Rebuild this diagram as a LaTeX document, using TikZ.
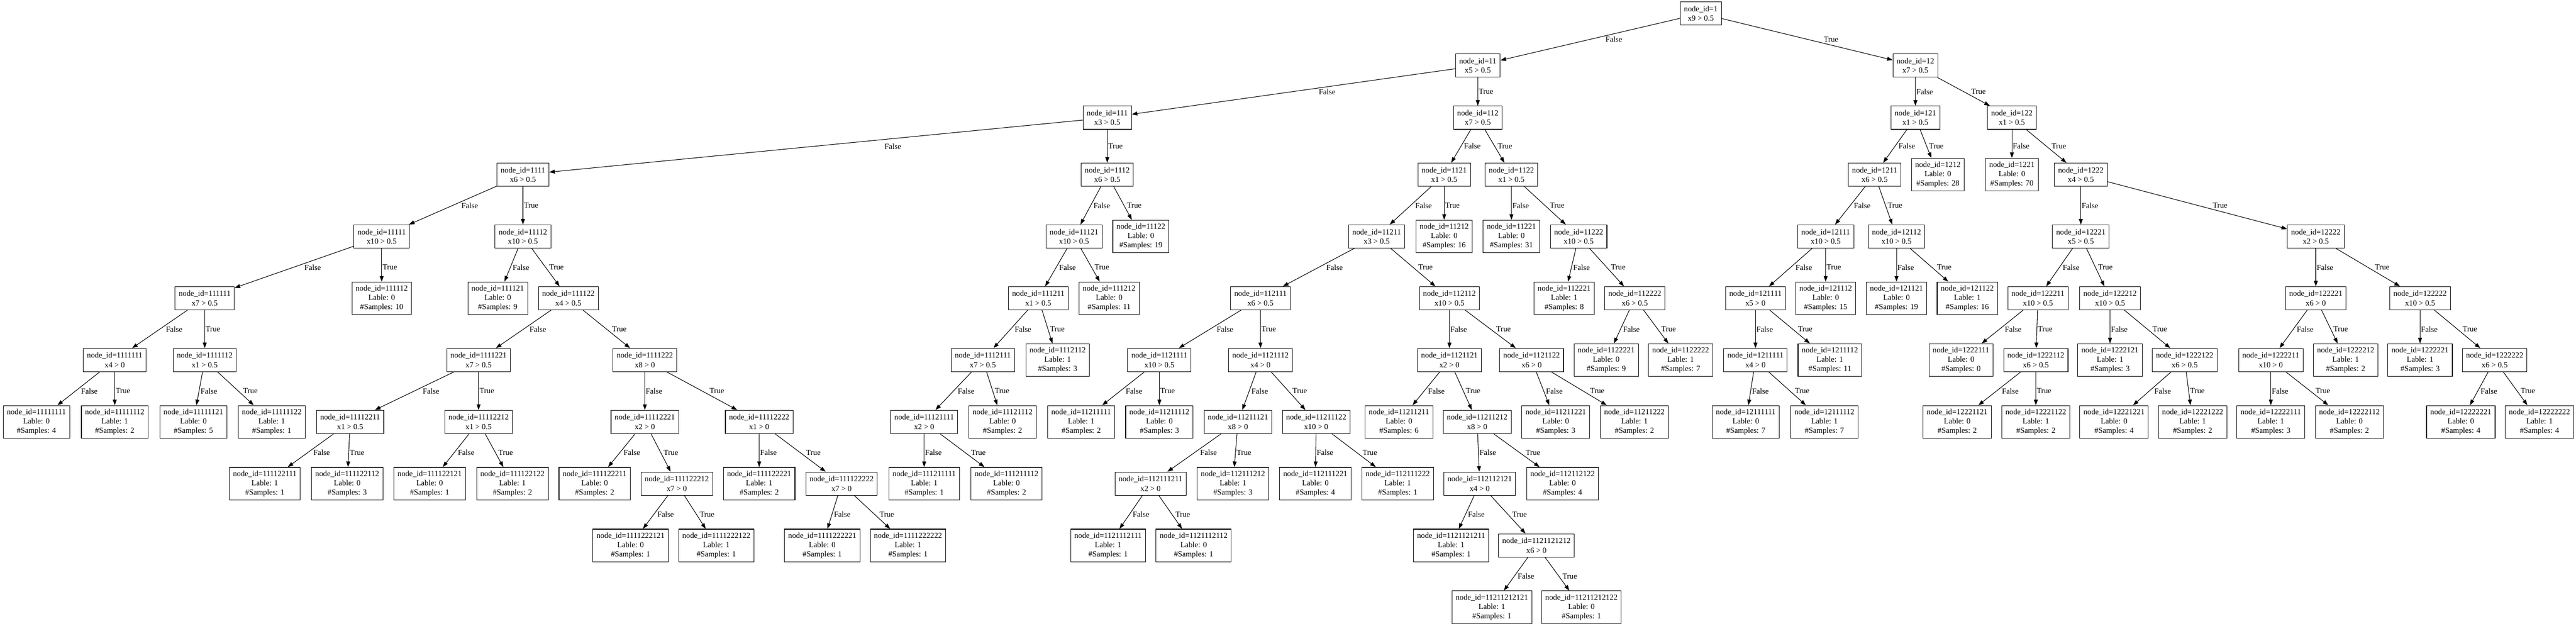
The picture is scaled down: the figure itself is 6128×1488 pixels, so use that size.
\documentclass[tikz,border=0pt]{standalone}
\usepackage{fontspec}
\setmainfont{Liberation Serif}
\usetikzlibrary{arrows.meta,calc}
\tikzset{
  box/.style={draw, line width=1pt, rectangle, inner xsep=6.6pt, inner ysep=0pt, align=center, font=\fontsize{14}{16.8}\selectfont},
  dec/.style={box, minimum height=41.5pt},
  leaf/.style={box, minimum height=58.3pt},
  lbl/.style={font=\fontsize{14}{16.8}\selectfont, inner sep=0pt, anchor=west},
  edge/.style={line width=1pt, -{Triangle[length=10pt,width=7pt]}},
}
\newcommand\dn[4]{\node[dec] (n#1) at (#2,#3) {node\_id=#1\\#4};}
\newcommand\lf[5]{\node[leaf] (n#1) at (#2,#3) {node\_id=#1\\Lable: #4\\\#Samples: #5};}
\newcommand\tedge[3]{%
  \draw[edge] (n#1) -- (n#2);
  \path let \p1=(n#1.center), \p2=(n#2.center),
    \n1={abs((\x2-\x1)/(\y2-\y1))},
    \n2={(\x1+\x2)/2+1.5pt+6.375pt*\n1},
    \n3={(\y1+\y2)/2} in
    node[lbl] at (\n2,\n3) {#3};}
\newcommand\kids[1]{\tedge{#1}{#11}{False}\tedge{#1}{#12}{True}}
\begin{document}
\begin{tikzpicture}[x=0.75pt,y=-0.75pt]
\fill[white] (0,0) rectangle (6128,1488);
\useasboundingbox (0,0) rectangle (6128,1488);
% rank 0
\dn{1}{4046}{32}{x9 > 0.5}
% rank 1
\dn{11}{3515.5}{156}{x5 > 0.5}
\dn{12}{4556.5}{156}{x7 > 0.5}
% rank 2
\dn{111}{2634}{280}{x3 > 0.5}
\dn{112}{3515.5}{280}{x7 > 0.5}
\dn{121}{4556.5}{280}{x1 > 0.5}
\dn{122}{4786}{280}{x1 > 0.5}
% rank 3
\dn{1111}{1244}{415.5}{x6 > 0.5}
\dn{1112}{2634}{415.5}{x6 > 0.5}
\dn{1121}{3435.5}{415.5}{x1 > 0.5}
\dn{1122}{3595.5}{415.5}{x1 > 0.5}
\dn{1211}{4459.5}{415.5}{x6 > 0.5}
\lf{1212}{4610}{415.5}{0}{28}
\lf{1221}{4786}{415.5}{0}{70}
\dn{1222}{4950}{415.5}{x4 > 0.5}
% rank 4
\dn{11111}{908}{562.5}{x10 > 0.5}
\dn{11112}{1244}{562.5}{x10 > 0.5}
\dn{11121}{2555}{562.5}{x10 > 0.5}
\lf{11122}{2714}{562.5}{0}{19}
\dn{11211}{3275}{562.5}{x3 > 0.5}
\lf{11212}{3435.5}{562.5}{0}{16}
\lf{11221}{3595.5}{562.5}{0}{31}
\dn{11222}{3755.5}{562.5}{x10 > 0.5}
\dn{12111}{4343}{562.5}{x10 > 0.5}
\dn{12112}{4511.5}{562.5}{x10 > 0.5}
\dn{12221}{4950}{562.5}{x5 > 0.5}
\dn{12222}{5509}{562.5}{x2 > 0.5}
% rank 5
\dn{111111}{487}{709.5}{x7 > 0.5}
\lf{111112}{908}{709.5}{0}{10}
\lf{111121}{1184}{709.5}{0}{9}
\dn{111122}{1352}{709.5}{x4 > 0.5}
\dn{111211}{2470}{709.5}{x1 > 0.5}
\lf{111212}{2638.5}{709.5}{0}{11}
\dn{112111}{2998.5}{709.5}{x6 > 0.5}
\dn{112112}{3448}{709.5}{x10 > 0.5}
\lf{112221}{3721}{709.5}{1}{8}
\dn{112222}{3889}{709.5}{x6 > 0.5}
\dn{121111}{4176}{709.5}{x5 > 0}
\lf{121112}{4343}{709.5}{0}{15}
\lf{121121}{4511.5}{709.5}{0}{19}
\lf{121122}{4680}{709.5}{1}{16}
\dn{122211}{4848}{709.5}{x10 > 0.5}
\dn{122212}{5019.5}{709.5}{x10 > 0.5}
\dn{122221}{5509}{709.5}{x6 > 0}
\dn{122222}{5757}{709.5}{x10 > 0.5}
% rank 6
\dn{1111111}{273}{856.5}{x4 > 0}
\dn{1111112}{487}{856.5}{x1 > 0.5}
\dn{1111221}{1138.5}{856.5}{x7 > 0.5}
\dn{1111222}{1534}{856.5}{x8 > 0}
\dn{1112111}{2338}{856.5}{x7 > 0.5}
\lf{1112112}{2516}{856.5}{1}{3}
\dn{1121111}{2758}{856.5}{x10 > 0.5}
\dn{1121112}{2998.5}{856.5}{x4 > 0}
\dn{1121121}{3448}{856.5}{x2 > 0}
\dn{1121122}{3643.5}{856.5}{x6 > 0}
\lf{1122221}{3821}{856.5}{0}{9}
\lf{1122222}{3998}{856.5}{1}{7}
\dn{1211111}{4176}{856.5}{x4 > 0}
\lf{1211112}{4353}{856.5}{1}{11}
\lf{1222111}{4665}{856.5}{0}{0}
\dn{1222112}{4843}{856.5}{x6 > 0.5}
\lf{1222121}{5019.5}{856.5}{1}{3}
\dn{1222122}{5197}{856.5}{x6 > 0.5}
\dn{1222211}{5402}{856.5}{x10 > 0}
\lf{1222212}{5580}{856.5}{1}{2}
\lf{1222221}{5757}{856.5}{1}{3}
\dn{1222222}{5934.5}{856.5}{x6 > 0.5}
% rank 7
\lf{11111111}{86.5}{1003.5}{0}{4}
\lf{11111112}{273}{1003.5}{1}{2}
\lf{11111121}{460}{1003.5}{0}{5}
\lf{11111122}{646.5}{1003.5}{1}{1}
\dn{11112211}{833}{1003.5}{x1 > 0.5}
\dn{11112212}{1138.5}{1003.5}{x1 > 0.5}
\dn{11112221}{1534}{1003.5}{x2 > 0}
\dn{11112222}{1806}{1003.5}{x1 > 0}
\dn{11121111}{2198.5}{1003.5}{x2 > 0}
\lf{11121112}{2385}{1003.5}{0}{2}
\lf{11211111}{2572}{1003.5}{1}{2}
\lf{11211112}{2758}{1003.5}{0}{3}
\dn{11211121}{2945}{1003.5}{x8 > 0}
\dn{11211122}{3131}{1003.5}{x10 > 0}
\lf{11211211}{3328}{1003.5}{0}{6}
\dn{11211212}{3514}{1003.5}{x8 > 0}
\lf{11211221}{3701}{1003.5}{0}{3}
\lf{11211222}{3888}{1003.5}{1}{2}
\lf{12111111}{4153}{1003.5}{0}{7}
\lf{12111112}{4340}{1003.5}{1}{7}
\lf{12221121}{4656}{1003.5}{0}{2}
\lf{12221122}{4843}{1003.5}{1}{2}
\lf{12221221}{5029}{1003.5}{0}{4}
\lf{12221222}{5216}{1003.5}{1}{2}
\lf{12222111}{5402}{1003.5}{1}{3}
\lf{12222112}{5589}{1003.5}{0}{2}
\lf{12222221}{5854}{1003.5}{0}{4}
\lf{12222222}{6041}{1003.5}{1}{4}
% rank 8
\lf{111122111}{630}{1150.5}{1}{1}
\lf{111122112}{826}{1150.5}{0}{3}
\lf{111122121}{1022}{1150.5}{0}{1}
\lf{111122122}{1219}{1150.5}{1}{2}
\lf{111122211}{1414.5}{1150.5}{0}{2}
\dn{111122212}{1610}{1150.5}{x7 > 0}
\lf{111122221}{1806}{1150.5}{1}{2}
\dn{111122222}{2002}{1150.5}{x7 > 0}
\lf{111211111}{2198.5}{1150.5}{1}{1}
\lf{111211112}{2394.5}{1150.5}{0}{2}
\dn{112111211}{2737}{1150.5}{x2 > 0}
\lf{112111212}{2933}{1150.5}{1}{3}
\lf{112111221}{3129}{1150.5}{0}{4}
\lf{112111222}{3325}{1150.5}{1}{1}
\dn{112112121}{3520}{1150.5}{x4 > 0}
\lf{112112122}{3717}{1150.5}{0}{4}
% rank 9
\lf{1111222121}{1500}{1297.5}{0}{1}
\lf{1111222122}{1704}{1297.5}{1}{1}
\lf{1111222221}{1956}{1297.5}{0}{1}
\lf{1111222222}{2160}{1297.5}{1}{1}
\lf{1121112111}{2636}{1297.5}{1}{1}
\lf{1121112112}{2839.5}{1297.5}{0}{1}
\lf{1121121211}{3452}{1297.5}{1}{1}
\dn{1121121212}{3655}{1297.5}{x6 > 0}
% rank 10
\lf{11211212121}{3549}{1444.5}{1}{1}
\lf{11211212122}{3762}{1444.5}{0}{1}
% edges
\kids{1}\kids{11}\kids{12}
\draw[edge] (n111) -- (n1111);
\node[lbl] (lf111) at (2104,348) {False};
\tedge{111}{1112}{True}
\kids{112}\kids{121}\kids{122}
\kids{1111}\kids{1112}\kids{1121}\kids{1122}\kids{1211}\kids{1222}
\kids{11111}\kids{11112}\kids{11121}\kids{11211}\kids{11222}\kids{12111}\kids{12112}\kids{12221}\kids{12222}
\kids{111111}\kids{111122}\kids{111211}\kids{112111}\kids{112112}\kids{112222}\kids{121111}\kids{122211}\kids{122212}\kids{122221}\kids{122222}
\kids{1111111}\kids{1111112}\kids{1111221}\kids{1111222}\kids{1112111}\kids{1121111}\kids{1121112}\kids{1121121}\kids{1121122}\kids{1211111}\kids{1222112}\kids{1222122}\kids{1222211}\kids{1222222}
\kids{11112211}\kids{11112212}\kids{11112221}\kids{11112222}\kids{11121111}\kids{11211121}\kids{11211122}\kids{11211212}
\kids{111122212}\kids{111122222}\kids{112111211}\kids{112112121}
\kids{1121121212}
\end{tikzpicture}
\end{document}
